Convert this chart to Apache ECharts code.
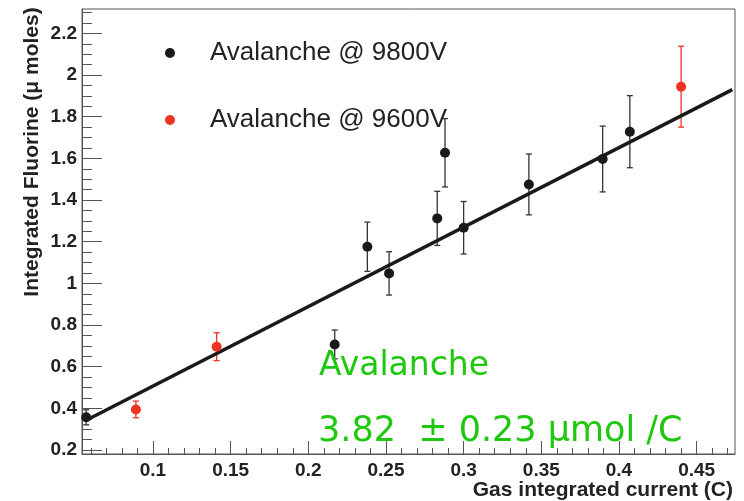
<!DOCTYPE html>
<html>
<head>
<meta charset="utf-8">
<script src="https://cdn.jsdelivr.net/npm/echarts@6/dist/echarts.min.js"></script>
<style>html,body{margin:0;padding:0;background:#fff}#c{width:744px;height:501px}</style>
</head>
<body>
<div id="c"></div>
<script>
// ---- data ----
const seriesNames = ['Avalanche @ 9800V', 'Avalanche @ 9600V'];
const blackX   = [0.057, 0.217, 0.238, 0.252, 0.283, 0.288, 0.300, 0.342, 0.3895, 0.407];
const blackY   = [0.357, 0.707, 1.176, 1.048, 1.312, 1.627, 1.267, 1.475, 1.597, 1.728];
const blackErr = [0.036, 0.069, 0.118, 0.104, 0.130, 0.164, 0.126, 0.146, 0.158, 0.173];
const redX     = [0.089, 0.141, 0.440];
const redY     = [0.395, 0.696, 1.944];
const redErr   = [0.040, 0.067, 0.194];
const fitX     = [0.057, 0.473];
const fitY     = [0.343, 1.930];
const xTickLabels = [0.1, 0.15, 0.2, 0.25, 0.3, 0.35, 0.4, 0.45];
const yTickLabels = [0.2, 0.4, 0.6, 0.8, 1, 1.2, 1.4, 1.6, 1.8, 2, 2.2];
const xRange = [0.0543, 0.4747];
const yRange = [0.181, 2.317];
const fitLabel = 'Avalanche';
const fitResult = '3.82  \u00b1 0.23 \u03bcmol /C';
const xTitle = 'Gas integrated current (C)';
const yTitle = 'Integrated Fluorine (\u03bc moles)';

// minor tick positions (axis decoration)
const xMinor = [];
for (let i = 6; i <= 47; i++) xMinor.push(+(i / 100).toFixed(2));
const yMinor = [];
for (let i = 4; i <= 46; i++) yMinor.push(+(i * 0.05).toFixed(2));

const FONT = '"Liberation Sans", Arial, Helvetica, sans-serif';
const BLACK = '#1a1a1a', RED = '#ee3322', GREEN = '#1ec80f';

function pts(xs, ys) { return xs.map((x, i) => [x, ys[i]]); }
function errPts(xs, ys, es) { return xs.map((x, i) => [x, ys[i], es[i]]); }

function errRender(color) {
  return function (params, api) {
    const x = api.value(0), y = api.value(1), e = api.value(2);
    const t = api.coord([x, y + e]);
    const b = api.coord([x, y - e]);
    const cw = 3;
    const st = { stroke: color, lineWidth: 1.3 };
    return {
      type: 'group',
      children: [
        { type: 'line', shape: { x1: t[0], y1: t[1], x2: b[0], y2: b[1] }, style: st },
        { type: 'line', shape: { x1: t[0] - cw, y1: t[1], x2: t[0] + cw, y2: t[1] }, style: st },
        { type: 'line', shape: { x1: b[0] - cw, y1: b[1], x2: b[0] + cw, y2: b[1] }, style: st }
      ]
    };
  };
}

const chart = echarts.init(document.getElementById('c'));
const axisCol = '#555';

chart.setOption({
  animation: false,
  backgroundColor: '#fff',
  grid: { left: 82, right: 9, top: 9, bottom: 47, show: true, borderColor: axisCol, borderWidth: 1 },
  legend: {
    data: seriesNames,
    orient: 'vertical',
    left: 160, top: 35,
    itemWidth: 10, itemHeight: 10, itemGap: 41,
    icon: 'circle',
    textStyle: { fontFamily: FONT, fontSize: 26, color: '#222', lineHeight: 26, padding: [0, 0, 0, 30] }
  },
  xAxis: [
    {
      type: 'value', min: xRange[0], max: xRange[1], position: 'bottom',
      axisLine: { show: true, lineStyle: { color: axisCol, width: 1 } },
      axisTick: { show: true, inside: true, length: 13, customValues: xTickLabels, lineStyle: { color: axisCol } },
      axisLabel: { customValues: xTickLabels, margin: 7, fontFamily: FONT, fontSize: 19, fontWeight: 'bold', color: '#222' },
      splitLine: { show: false }
    },
    {
      type: 'value', min: xRange[0], max: xRange[1], position: 'bottom',
      axisLine: { show: false },
      axisTick: { show: true, inside: true, length: 6, customValues: xMinor, lineStyle: { color: axisCol } },
      axisLabel: { show: false },
      splitLine: { show: false }
    }
  ],
  yAxis: [
    {
      type: 'value', min: yRange[0], max: yRange[1], position: 'left',
      axisLine: { show: true, lineStyle: { color: axisCol, width: 1 } },
      axisTick: { show: true, inside: true, length: 20, customValues: yTickLabels, lineStyle: { color: axisCol } },
      axisLabel: { customValues: yTickLabels, margin: 5, fontFamily: FONT, fontSize: 19, fontWeight: 'bold', color: '#222' },
      splitLine: { show: false }
    },
    {
      type: 'value', min: yRange[0], max: yRange[1], position: 'left',
      axisLine: { show: false },
      axisTick: { show: true, inside: true, length: 10, customValues: yMinor, lineStyle: { color: axisCol } },
      axisLabel: { show: false },
      splitLine: { show: false }
    }
  ],
  series: [
    {
      name: 'fit', type: 'line', data: pts(fitX, fitY), showSymbol: false, z: 3,
      lineStyle: { color: BLACK, width: 3.5 }, silent: true
    },
    {
      name: 'errBlack', type: 'custom', renderItem: errRender('#333'),
      data: errPts(blackX, blackY, blackErr), encode: { x: 0, y: 1 }, z: 2
    },
    {
      name: 'errRed', type: 'custom', renderItem: errRender(RED),
      data: errPts(redX, redY, redErr), encode: { x: 0, y: 1 }, z: 2
    },
    {
      name: seriesNames[0], type: 'scatter', data: pts(blackX, blackY), symbol: 'circle', symbolSize: 10,
      itemStyle: { color: BLACK, opacity: 1 }, z: 4
    },
    {
      name: seriesNames[1], type: 'scatter', data: pts(redX, redY), symbol: 'circle', symbolSize: 10,
      itemStyle: { color: RED, opacity: 1 }, z: 4
    }
  ],
  graphic: [
    {
      type: 'text', x: 32, y: 152, rotation: Math.PI / 2, z: 10,
      style: { text: yTitle, fontFamily: FONT, fontSize: 21, fontWeight: 'bold', fill: '#222', align: 'center', verticalAlign: 'middle' }
    },
    {
      type: 'text', x: 733, y: 490, z: 10,
      style: { text: xTitle, fontFamily: FONT, fontSize: 21, fontWeight: 'bold', fill: '#222', align: 'right', verticalAlign: 'middle' }
    },
    {
      type: 'text', x: 319, y: 366, z: 10,
      style: { text: fitLabel, fontFamily: '"DejaVu Sans", sans-serif', fontSize: 33, fill: GREEN, align: 'left', verticalAlign: 'middle' }
    },
    {
      type: 'text', x: 318, y: 432, z: 10,
      style: { text: fitResult, fontFamily: '"DejaVu Sans", sans-serif', fontSize: 35, fill: GREEN, align: 'left', verticalAlign: 'middle' }
    }
  ]
});
</script>
</body>
</html>
